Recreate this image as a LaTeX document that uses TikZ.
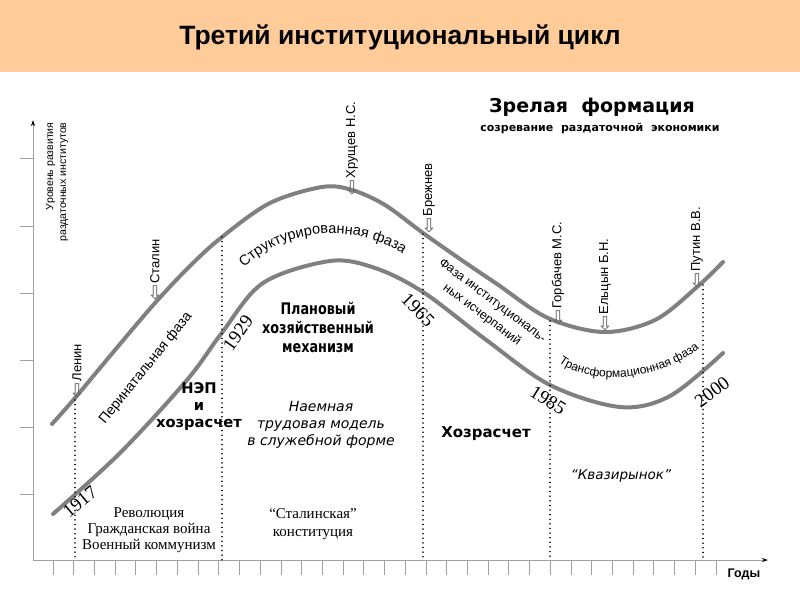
\documentclass[tikz,border=0pt]{standalone}
\usepackage{fontspec}
\setmainfont{Liberation Sans}
\newfontfamily\timesfont{Liberation Serif}
\newfontfamily\verdfont{DejaVu Sans}
\newfontfamily\verdnarrow{DejaVu Sans}[FakeStretch=0.8]
\usetikzlibrary{arrows.meta, positioning, decorations.text}
\definecolor{banner}{RGB}{255,204,153}
\definecolor{curvegray}{RGB}{128,128,128}
\definecolor{axisgray}{RGB}{160,160,160}

\begin{document}
\begin{tikzpicture}[x=1pt, y=-1pt,
  curve/.style={curvegray, line width=4pt, line cap=round},
  period/.style={line width=1.6pt, dash pattern=on 0.01pt off 4.6pt, line cap=round},
  ruler/.style={rotate=90, anchor=west, inner xsep=2pt, inner ysep=0pt,
                font=\fontsize{13}{13}\selectfont},
  pointer/.style={inner sep=0pt, text=curvegray!80!black, font=\verdfont\fontsize{19}{19}\selectfont},
  year/.style={font=\timesfont\fontsize{19}{19}\selectfont, inner sep=0pt},
  phase/.style={font=\fontsize{14}{14}\selectfont, inner sep=0pt},
  econ/.style={font=\verdfont\bfseries\fontsize{14.7}{17}\selectfont, align=center, inner sep=0pt},
  era/.style={font=\timesfont\fontsize{15}{16}\selectfont, align=center, inner sep=0pt}]
\useasboundingbox (0,0) rectangle (800,600);

% title bar
\fill[banner] (0,0) rectangle (800,72);
\node[font=\fontsize{26.5}{30}\selectfont\bfseries] (title) at (400,37) {Третий институциональный цикл};

% axes
\coordinate (origin) at (33,560);
\coordinate (ytop) at (33,120);
\coordinate (xend) at (768,560);
\draw[axisgray, line width=1pt, -{Stealth[length=6pt, width=4pt, black]}] (origin) -- (ytop);
\draw[axisgray, line width=1pt, -{Stealth[length=6pt, width=4pt, black]}] (origin) -- (xend);
\foreach \y in {158,226,293,360,427,494}
  \draw[axisgray, line width=0.8pt] (20,\y) -- (33,\y);
\foreach \i in {0,...,32}
  \draw[axisgray, line width=0.8pt] ({53+20.72*\i},560) -- ++(0,15);
\node[font=\fontsize{12.5}{12.5}\selectfont\bfseries] (years) at (744,574) {Годы};
\node[rotate=90, align=right, inner sep=0pt, font=\fontsize{10.5}{13}\selectfont]
  (level) at (57,182) {Уровень развития\\раздаточных институтов};

% the two curves
\draw[curve] plot[smooth, tension=0.55] coordinates {(52,424) (75,398) (115,350) (155,303)
  (190,266) (222,237) (270,203) (322,187) (352,190) (385,205) (423,233) (460,259)
  (497,284) (548,318) (604,332) (655,320) (697,287) (723,262)};
\draw[curve] plot[smooth, tension=0.55] coordinates {(53,514) (120,453) (187,380)
  (221,334) (263,283) (330,261) (375,268) (423,292) (485,339) (550,385)
  (620,407) (670,396) (723,353)};

% period borders
\coordinate (b1917) at (75,400);
\coordinate (b1929) at (222,237);
\coordinate (b1965) at (423,234);
\coordinate (b1985) at (550,321);
\coordinate (b2000) at (703,285);
\foreach \b in {b1917,b1929,b1965,b1985,b2000}
  \draw[period] (\b) -- (\b |- origin);

% leaders
\node[pointer] (lenin) at (77,391) {⇩};
\node[ruler] at (lenin.north) {Ленин};
\node[pointer] (stalin) at (155,293) {⇩};
\node[ruler] at (stalin.north) {Сталин};
\node[pointer] (khrushchev) at (352,188) {⇩};
\node[ruler] at (khrushchev.north) {Хрущев Н.С.};
\node[pointer] (brezhnev) at (429,226) {⇩};
\node[ruler] at (brezhnev.north) {Брежнев};
\node[pointer] (gorbachev) at (558,318) {⇩};
\node[ruler] at (gorbachev.north) {Горбачев М.С.};
\node[pointer] (yeltsin) at (605,324) {⇩};
\node[ruler] at (yeltsin.north) {Ельцын Б.Н.};
\node[pointer] (putin) at (697,281) {⇩};
\node[ruler] at (putin.north) {Путин В.В.};

% formation
\node[font=\verdfont\bfseries\fontsize{19}{19}\selectfont] (formation) at (592,107) {Зрелая\ \ формация};
\node[font=\verdfont\bfseries\fontsize{11}{11}\selectfont] (maturing) at (600,128) {созревание\ \ раздаточной\ \ экономики};

% phases
\node[phase, rotate=51] (perinatal) at (146,368) {Перинатальная фаза};
\path[decorate, decoration={text along path, text align=center,
  text={|\fontsize{14.5}{14.5}\selectfont|Структурированная фаза}}]
  (236,276) .. controls (280,222) and (370,222) .. (412,262);
\node[phase, font=\fontsize{12.5}{17.5}\selectfont, rotate=-37, align=center]
  (exhaust) at (487,308) {Фаза институциональ-\\ных исчерпаний};
\path[decorate, decoration={text along path, text align=center,
  text={|\fontsize{12}{12}\selectfont|Трансформационная фаза}}]
  (556,360) .. controls (585,385) and (655,385) .. (702,346);

% years
\node[year, rotate=40] (y1917) at (80,502) {1917};
\node[year, rotate=55] (y1929) at (238,333) {1929};
\node[year, rotate=-45] (y1965) at (418,310) {1965};
\node[year, rotate=-32] (y1985) at (548,400) {1985};
\node[year, rotate=37] (y2000) at (712,392) {2000};

% economic mechanisms
\node[econ, font=\verdnarrow\bfseries\fontsize{16}{19}\selectfont] (plan) at (318,327)
  {Плановый\\хозяйственный\\механизм};
\node[econ] (nep) at (199,407) {НЭП\\и\\хозрасчет};
\node[econ, font=\verdfont\itshape\fontsize{14}{17}\selectfont] (labour) at (321,425)
  {Наемная\\трудовая модель\\в служебной форме};
\node[econ, font=\verdfont\bfseries\fontsize{15}{17}\selectfont] (selfacc) at (486,434) {Хозрасчет};
\node[econ, font=\verdfont\itshape\fontsize{13.5}{17}\selectfont] (quasi) at (621,476) {“Квазирынок”};

% eras
\node[era] (revolution) at (149,530) {Революция\\Гражданская война\\Военный коммунизм};
\node[era, font=\timesfont\fontsize{15}{18}\selectfont] (constitution) at (313,524)
  {“Сталинская”\\конституция};
\end{tikzpicture}
\end{document}
